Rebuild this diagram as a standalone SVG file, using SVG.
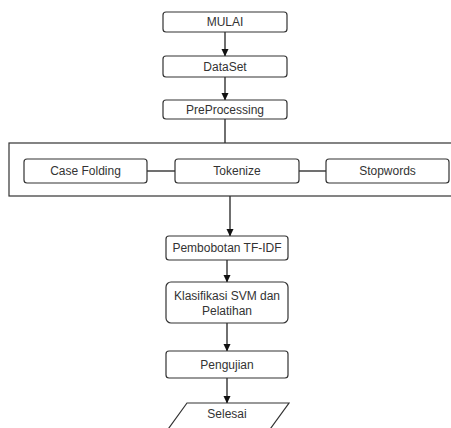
<svg xmlns="http://www.w3.org/2000/svg" width="451" height="428" viewBox="0 0 451 428">
<style>
.box{fill:#fff;stroke:#333;stroke-width:1.2}
.t{font-family:"Liberation Sans",Arial,sans-serif;font-size:12px;fill:#333;text-anchor:middle;dominant-baseline:central}
.c{stroke:#222;stroke-width:1.3;fill:none}
</style>
<defs>
<marker id="ah" markerWidth="8" markerHeight="8" refX="7" refY="4" orient="auto" markerUnits="userSpaceOnUse">
<path d="M0,0.5 L7.5,4 L0,7.5 Z" fill="#111"/>
</marker>
</defs>
<rect width="451" height="428" fill="#fff"/>
<g id="connectors">
<line class="c" x1="225" y1="32" x2="225" y2="56" marker-end="url(#ah)"/>
<line class="c" x1="225" y1="77" x2="225" y2="100" marker-end="url(#ah)"/>
<line class="c" x1="225" y1="119" x2="225" y2="143"/>
<line class="c" x1="147" y1="171" x2="175" y2="171"/>
<line class="c" x1="299" y1="171" x2="326" y2="171"/>
<line class="c" x1="230" y1="196" x2="230" y2="236" marker-end="url(#ah)"/>
<line class="c" x1="227" y1="260" x2="227" y2="282" marker-end="url(#ah)"/>
<line class="c" x1="227" y1="323" x2="227" y2="351" marker-end="url(#ah)"/>
<line class="c" x1="227" y1="378" x2="227" y2="403" marker-end="url(#ah)"/>
</g>
<g id="mulai"><rect class="box" x="163" y="12" width="124" height="20" rx="3"/><text class="t" x="225" y="22">MULAI</text></g>
<g id="dataset"><rect class="box" x="163" y="56" width="124" height="21" rx="3"/><text class="t" x="225" y="66.5">DataSet</text></g>
<g id="preprocessing"><rect class="box" x="163" y="100" width="124" height="19" rx="3"/><text class="t" x="225" y="109.5">PreProcessing</text></g>
<g id="preprocessing-group"><rect x="9" y="143" width="450" height="53" fill="none" stroke="#333" stroke-width="1.2"/></g>
<g id="casefolding"><rect class="box" x="24" y="159" width="123" height="24" rx="3"/><text class="t" x="85.5" y="171">Case Folding</text></g>
<g id="tokenize"><rect class="box" x="175" y="159" width="124" height="24" rx="3"/><text class="t" x="237" y="171">Tokenize</text></g>
<g id="stopwords"><rect class="box" x="326" y="159" width="123" height="24" rx="3"/><text class="t" x="387.5" y="171">Stopwords</text></g>
<g id="tfidf"><rect class="box" x="166" y="236" width="122" height="24" rx="3"/><text class="t" x="227" y="248">Pembobotan TF-IDF</text></g>
<g id="svm"><rect class="box" x="166" y="282" width="122" height="41" rx="5"/><text class="t" x="227" y="296">Klasifikasi SVM dan</text><text class="t" x="227" y="311">Pelatihan</text></g>
<g id="pengujian"><rect class="box" x="166" y="351" width="122" height="27" rx="3"/><text class="t" x="227" y="364.5">Pengujian</text></g>
<g id="selesai"><path class="box" d="M187,403 L289,403 L268,432 L166,432 Z"/><text class="t" x="227" y="414">Selesai</text></g>
</svg>
